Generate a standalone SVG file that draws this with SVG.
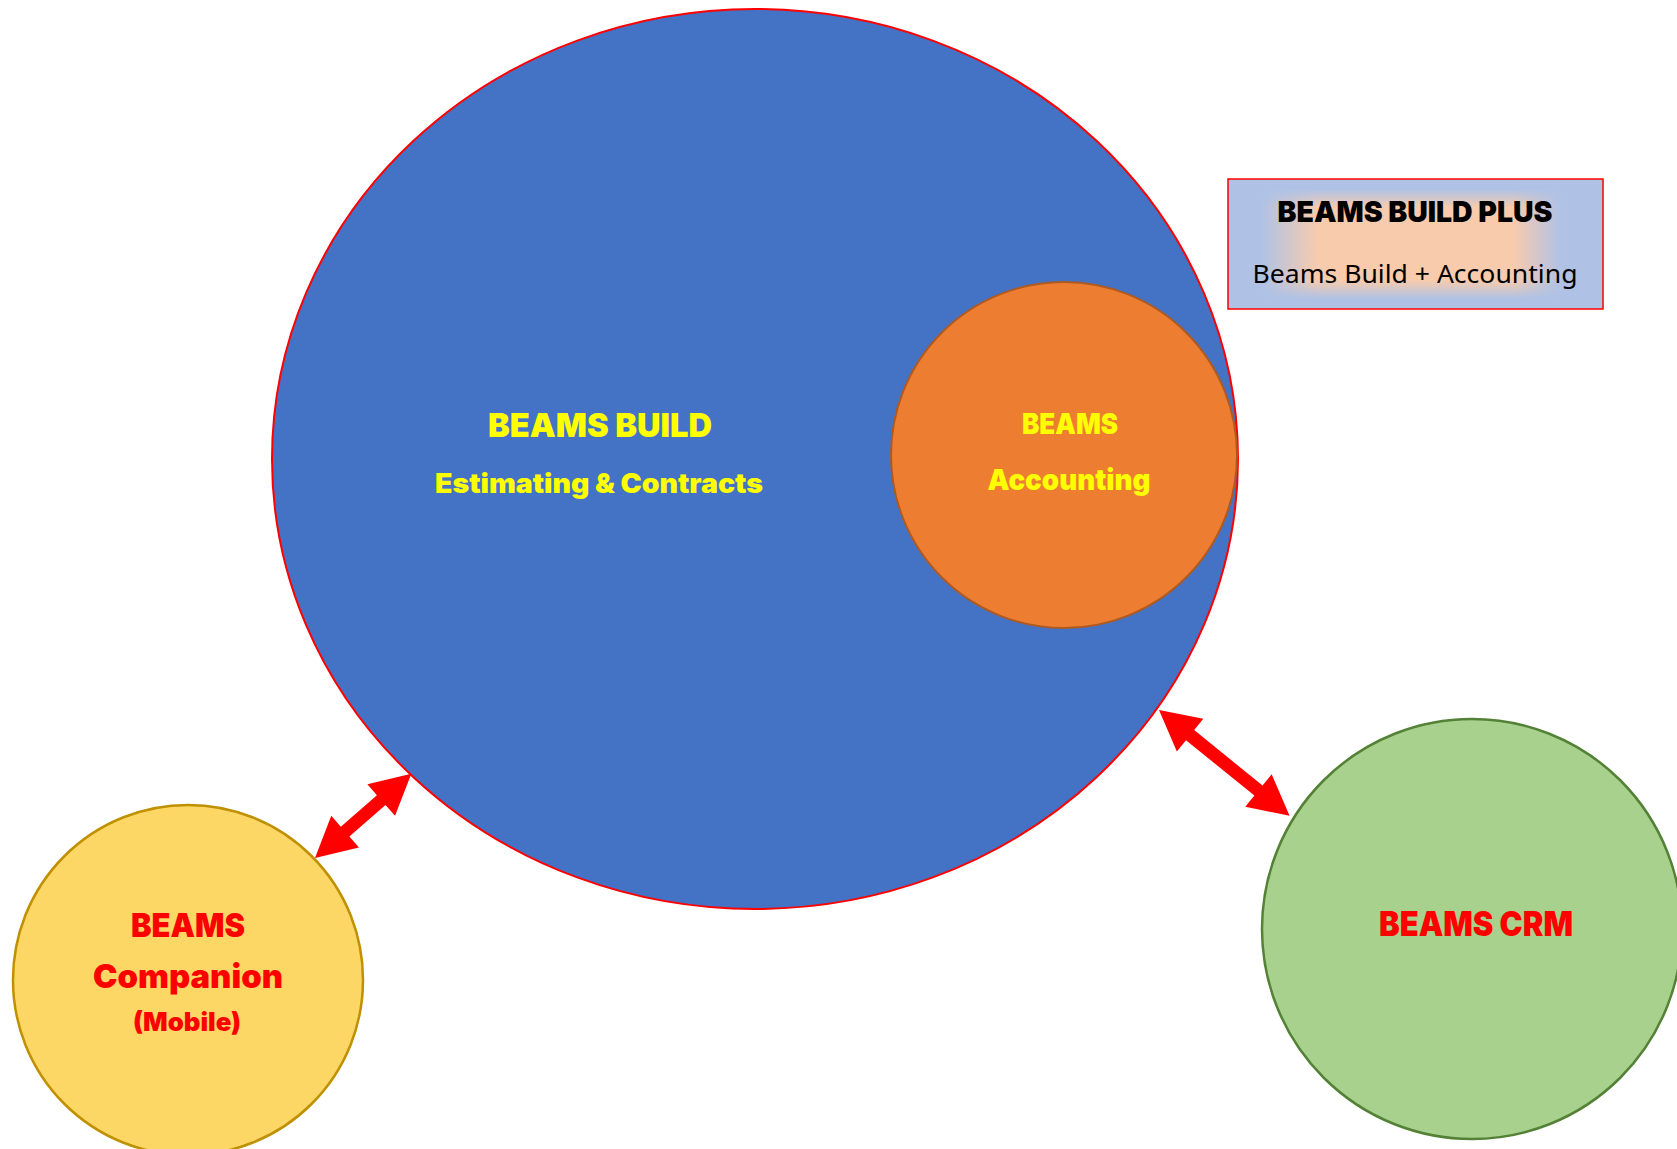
<svg xmlns="http://www.w3.org/2000/svg" width="1677" height="1149" viewBox="0 0 1677 1149">
<defs>
<linearGradient id="gh" x1="0" y1="0" x2="1" y2="0">
<stop offset="0" stop-color="#AFC2E6" stop-opacity="1"/>
<stop offset="0.09" stop-color="#AFC2E6" stop-opacity="1"/>
<stop offset="0.24" stop-color="#AFC2E6" stop-opacity="0"/>
<stop offset="0.76" stop-color="#AFC2E6" stop-opacity="0"/>
<stop offset="0.89" stop-color="#AFC2E6" stop-opacity="1"/>
<stop offset="1" stop-color="#AFC2E6" stop-opacity="1"/>
</linearGradient>
<linearGradient id="gv" x1="0" y1="0" x2="0" y2="1">
<stop offset="0" stop-color="#AFC2E6" stop-opacity="1"/>
<stop offset="0.08" stop-color="#AFC2E6" stop-opacity="1"/>
<stop offset="0.22" stop-color="#AFC2E6" stop-opacity="0"/>
<stop offset="0.78" stop-color="#AFC2E6" stop-opacity="0"/>
<stop offset="0.92" stop-color="#AFC2E6" stop-opacity="1"/>
<stop offset="1" stop-color="#AFC2E6" stop-opacity="1"/>
</linearGradient>
</defs>
<style>
.hv { font-family: "Inter", "Noto Sans", "Lato", "Liberation Sans", sans-serif; font-weight: 900; text-anchor: middle; }
.rg { font-family: "Noto Sans", "Liberation Sans", sans-serif; font-weight: 400; text-anchor: middle; }
.yl { fill: #FFFF00; }
.rd { fill: #FF0000; }
.arrow { fill: #FF0000; }
</style>
<rect width="1677" height="1149" fill="#FFFFFF"/>

<g id="beams-build">
<ellipse cx="755" cy="459" rx="483" ry="450" fill="#4472C4" stroke="#FF0000" stroke-width="2"/>
<text class="hv yl" x="600" y="437" font-size="33" textLength="224" lengthAdjust="spacingAndGlyphs">BEAMS BUILD</text>
<text class="hv yl" x="599" y="493" font-size="27" textLength="328" lengthAdjust="spacingAndGlyphs">Estimating &amp; Contracts</text>
</g>

<g id="beams-accounting">
<circle cx="1064" cy="455" r="173" fill="#ED7D31" stroke="#AE5A21" stroke-width="2"/>
<text class="hv yl" x="1070" y="434" font-size="29" textLength="96" lengthAdjust="spacingAndGlyphs">BEAMS</text>
<text class="hv yl" x="1069" y="490" font-size="29" textLength="163" lengthAdjust="spacingAndGlyphs">Accounting</text>
</g>

<g id="beams-build-plus">
<rect x="1228" y="179" width="375" height="130" fill="#F8CBAD"/>
<rect x="1228" y="179" width="375" height="130" fill="url(#gh)"/>
<rect x="1228" y="179" width="375" height="130" fill="url(#gv)"/>
<rect x="1228" y="179" width="375" height="130" fill="none" stroke="#FF0000" stroke-width="1.5"/>
<text class="hv" x="1415" y="222" font-size="29" fill="#000000" textLength="275" lengthAdjust="spacingAndGlyphs">BEAMS BUILD PLUS</text>
<text class="rg" x="1415" y="283" font-size="25" fill="#000000" textLength="325" lengthAdjust="spacingAndGlyphs">Beams Build + Accounting</text>
</g>

<g id="beams-companion">
<circle cx="188" cy="980" r="175" fill="#FDD766" stroke="#BF9000" stroke-width="2.5"/>
<text class="hv rd" x="188" y="937" font-size="33" textLength="114" lengthAdjust="spacingAndGlyphs">BEAMS</text>
<text class="hv rd" x="188" y="988" font-size="33" textLength="190" lengthAdjust="spacingAndGlyphs">Companion</text>
<text class="hv rd" x="187" y="1031" font-size="26" textLength="108" lengthAdjust="spacingAndGlyphs">(Mobile)</text>
</g>

<g id="beams-crm">
<circle cx="1472" cy="929" r="210" fill="#A9D18E" stroke="#538135" stroke-width="2.5"/>
<text class="hv rd" x="1476" y="936" font-size="34" textLength="194" lengthAdjust="spacingAndGlyphs">BEAMS CRM</text>
</g>

<g id="connectors">
<polygon class="arrow" transform="translate(315,858) rotate(-41.2)" points="0,0 40,-21 40,-6.5 88,-6.5 88,-21 128,0 88,21 88,6.5 40,6.5 40,21"/>
<polygon class="arrow" transform="translate(1159,710) rotate(39)" points="0,0 40,-21 40,-6.5 128,-6.5 128,-21 168,0 128,21 128,6.5 40,6.5 40,21"/>
</g>
</svg>
